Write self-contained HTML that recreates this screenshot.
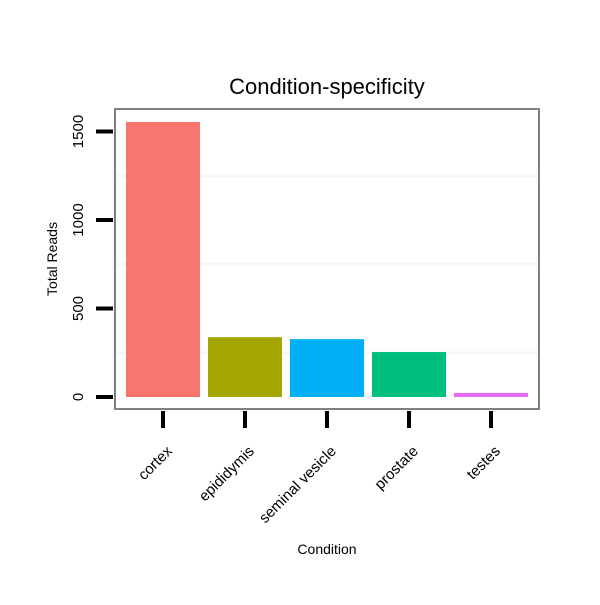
<!DOCTYPE html>
<html><head><meta charset="utf-8"><style>body{margin:0;background:#fff}svg text{font-family:"Liberation Sans",sans-serif}</style></head>
<body>
<svg id="c" width="600" height="600" xmlns="http://www.w3.org/2000/svg"></svg>
<script>
const categories=["cortex","epididymis","seminal vesicle","prostate","testes"];
const values=[1554,338,327,254,23];
const colors=["#F8766D","#A3A500","#00B0F6","#00BF7D","#E76BF3"];
const yTicks=[0,500,1000,1500];
const yMinor=[250,750,1250];
const svg=document.getElementById('c');const NS="http://www.w3.org/2000/svg";
function y(v){return 397-v*88.5/500;}
function x(i){return 163+i*82;}
function mk(t,a,p){const e=document.createElementNS(NS,t);for(const k in a)e.setAttribute(k,a[k]);(p||svg).appendChild(e);return e;}
const title=mk('text',{x:327,y:94,'text-anchor':'middle','font-size':22});title.textContent="Condition-specificity";


yMinor.forEach(v=>{const l=mk('line',{x1:115,x2:539,y1:y(v),y2:y(v),stroke:'#f7f7f7','stroke-width':3});

});
values.forEach((v,i)=>{const r=mk('rect',{x:x(i)-37,y:y(v),width:74,height:y(0)-y(v),fill:colors[i]});

});
const p=mk('rect',{x:115,y:109,width:424,height:300,fill:'none',stroke:'#808080','stroke-width':2});


yTicks.forEach(v=>{const l=mk('line',{x1:96,x2:113,y1:y(v),y2:y(v),stroke:'#000','stroke-width':4});


const t=mk('text',{x:0,y:0,'text-anchor':'middle','font-size':15,transform:`translate(83,${y(v)}) rotate(-90)`});t.textContent=v;

});
categories.forEach((c,i)=>{const l=mk('line',{x1:x(i),x2:x(i),y1:411,y2:428,stroke:'#000','stroke-width':4});


const t=mk('text',{x:0,y:0,'text-anchor':'end','font-size':15,transform:`translate(${x(i)+10},${452}) rotate(-45)`});t.textContent=c;

});
const xt=mk('text',{x:327,y:554,'text-anchor':'middle','font-size':14});xt.textContent="Condition";


const yt=mk('text',{x:0,y:0,'text-anchor':'middle','font-size':14,transform:'translate(57,259) rotate(-90)'});yt.textContent="Total Reads";


</script>
</body></html>
